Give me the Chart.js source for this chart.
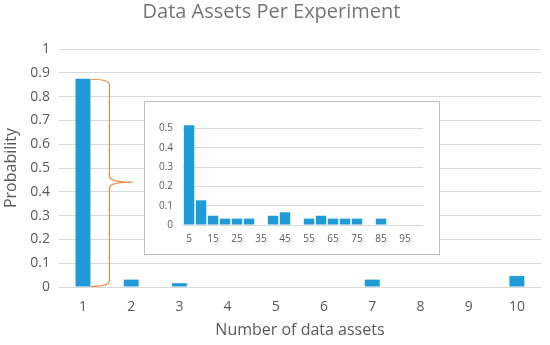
<!DOCTYPE html>
<html>
<head>
<meta charset="utf-8">
<script src="https://cdn.jsdelivr.net/npm/chart.js@4/dist/chart.umd.min.js"></script>
<style>
    body { margin: 0; background: #fff; }
    #wrap { position: relative; width: 550px; height: 345px; }
    #inset {
        position: absolute; left: 144px; top: 101px;
        width: 294px; height: 152px;
        border: 1px solid #bfbfbf; background: #fff;
    }
</style>
</head>
<body>
<div id="wrap">
    <canvas id="mainChart" width="550" height="345"></canvas>
    <div id="inset"><canvas id="insetChart" width="294" height="152"></canvas></div>
</div>
<script>
// main chart data
var assetCounts = ["1", "2", "3", "4", "5", "6", "7", "8", "9", "10"];
var assetProb = [0.875, 0.031, 0.016, 0, 0, 0, 0.031, 0, 0, 0.046];
var yTicks = [0, 0.1, 0.2, 0.3, 0.4, 0.5, 0.6, 0.7, 0.8, 0.9, 1];

// inset (zoomed distribution)
var insetCounts = ["5", "10", "15", "20", "25", "30", "35", "40", "45", "50",
    "55", "60", "65", "70", "75", "80", "85", "90", "95", "100"];
var insetProb = [0.517, 0.128, 0.048, 0.033, 0.033, 0.033, 0, 0.048, 0.066, 0,
    0.033, 0.048, 0.033, 0.033, 0.033, 0, 0.033, 0, 0, 0];
var insetTicks = [0, 0.1, 0.2, 0.3, 0.4, 0.5];

var grey = "#595959";
var barBlue = "#1f9bd7";
var font = "'Open Sans', 'Liberation Sans', sans-serif";

function plainNum(v) { return String(Math.round(v * 10) / 10); }

// orange curly brace next to the first bar
var bracePlugin = {
    id: "brace",
    afterDatasetsDraw: function(chart) {
        var bar = chart.getDatasetMeta(0).data[0];
        var ctx = chart.ctx;
        var x0 = bar.x + bar.width / 2;
        var top = bar.y, bot = bar.base;
        var mid = (top + bot) / 2 - 0.5;
        var x1 = x0 + 19, tip = x0 + 42;
        ctx.save();
        ctx.strokeStyle = "#f0883e";
        ctx.lineWidth = 1.2;
        ctx.beginPath();
        ctx.moveTo(x0, top + 0.5);
        ctx.quadraticCurveTo(x1, top + 0.5, x1, top + 6);
        ctx.lineTo(x1, mid - 6);
        ctx.quadraticCurveTo(x1, mid, tip, mid);
        ctx.quadraticCurveTo(x1, mid, x1, mid + 6);
        ctx.lineTo(x1, bot - 6);
        ctx.quadraticCurveTo(x1, bot, x0, bot);
        ctx.stroke();
        ctx.restore();
    }
};

new Chart(document.getElementById("mainChart"), {
    type: "bar",
    data: {
        labels: assetCounts,
        datasets: [{ data: assetProb, backgroundColor: barBlue, barPercentage: 0.62, categoryPercentage: 0.5 }]
    },
    options: {
        responsive: false,
        animation: false,
        layout: { padding: { left: 2, right: 9, top: 0, bottom: 1 } },
        plugins: {
            legend: { display: false },
            tooltip: { enabled: false },
            title: {
                display: true, text: "Data Assets Per Experiment", color: "#757575",
                font: { family: font, size: 20, weight: "normal" }, padding: { top: 0, bottom: 25 }
            }
        },
        scales: {
            x: {
                grid: { display: false },
                border: { display: false },
                ticks: { color: grey, font: { family: font, size: 14 }, padding: 4 },
                title: { display: true, text: "Number of data assets", color: grey, font: { family: font, size: 16 }, padding: { top: 1 } }
            },
            y: {
                min: 0, max: 1,
                afterBuildTicks: function(scale) {
                    scale.ticks = yTicks.map(function(v) { return { value: v }; });
                },
                grid: { color: "#d9d9d9", drawTicks: false },
                border: { display: false },
                ticks: { color: grey, font: { family: font, size: 14 }, padding: 9, callback: plainNum },
                title: { display: true, text: "Probability", color: grey, font: { family: font, size: 16 }, padding: { top: 0, bottom: 0 } }
            }
        }
    },
    plugins: [bracePlugin]
});

new Chart(document.getElementById("insetChart"), {
    type: "bar",
    data: {
        labels: insetCounts,
        datasets: [{ data: insetProb, backgroundColor: barBlue, barPercentage: 0.87, categoryPercentage: 1 }]
    },
    options: {
        responsive: false,
        animation: false,
        layout: { padding: { left: 4, right: 16, top: 17, bottom: 9 } },
        plugins: { legend: { display: false }, tooltip: { enabled: false } },
        scales: {
            x: {
                grid: { display: false },
                border: { display: false },
                ticks: {
                    autoSkip: false, maxRotation: 0, color: grey,
                    font: { family: font, size: 10 }, padding: 0,
                    callback: function(v, i) { return i % 2 === 0 ? insetCounts[i] : ""; }
                }
            },
            y: {
                min: 0, max: 0.55,
                afterBuildTicks: function(scale) {
                    scale.ticks = insetTicks.map(function(v) { return { value: v }; });
                },
                grid: { color: "#d9d9d9", drawTicks: false },
                border: { display: false },
                ticks: { color: grey, font: { family: font, size: 10 }, padding: 10, callback: plainNum }
            }
        }
    }
});
</script>
</body>
</html>
